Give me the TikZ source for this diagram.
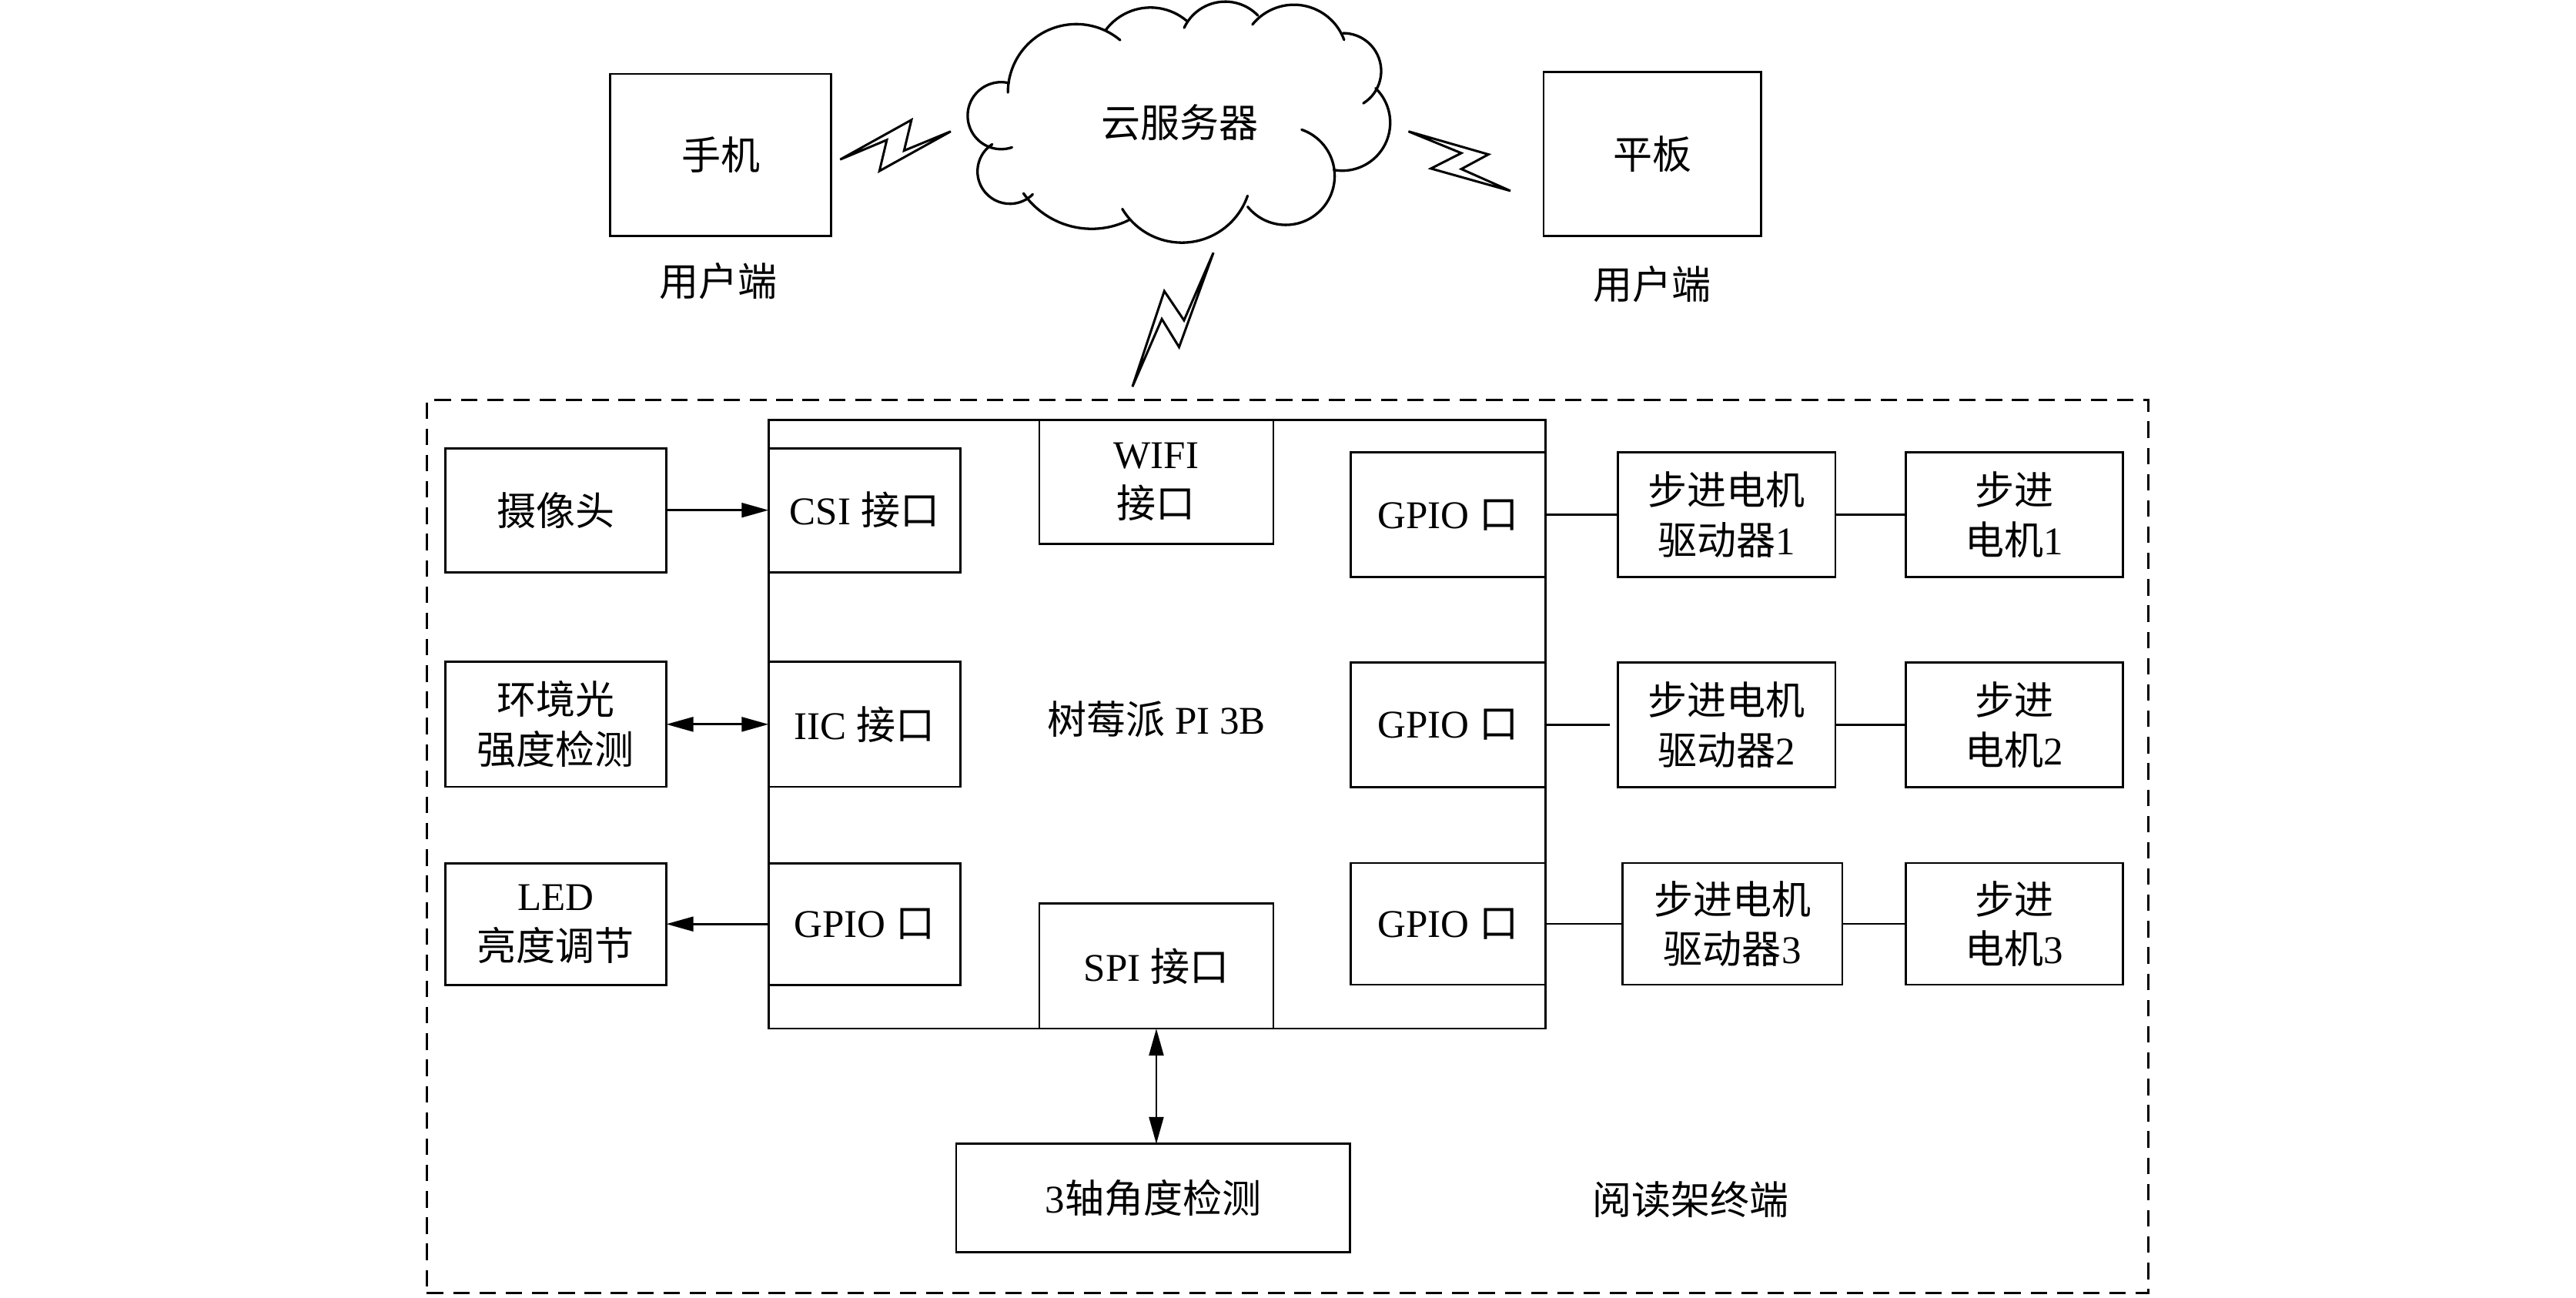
\documentclass[tikz,border=0pt]{standalone}
\usepackage{fontspec}
\setmainfont{Liberation Serif}
\newfontfamily\cjk{Noto Sans CJK SC}
\newcommand{\zh}[1]{{\cjk #1}}
\newcommand{\fsz}{\fontsize{17pt}{21.5pt}\selectfont}
\usetikzlibrary{arrows.meta,fit}
\tikzset{
  box/.style={draw, line width=0.95pt, inner sep=0pt, outer sep=0pt},
  lbl/.style={inner sep=0pt, align=center, font=\fsz},
  txt/.style={label={[lbl]center:#1}},
  frame/.style={draw, line width=1pt, dash pattern=on 0.25cm off 0.15cm, inner sep=0pt},
  conn/.style={line width=0.95pt},
  cloudline/.style={line width=1.1pt, line cap=round},
  bolt/.style={line width=1pt, line join=miter}
}
\begin{document}
\begin{tikzpicture}[x=0.025cm, y=0.025cm, >={Triangle[length=0.41cm, width=0.22cm]}]
\useasboundingbox (0,0) rectangle (1568,790);

% top: user devices
\node[box, fit={(371.5,646.3) (505.8,745)}, txt={\zh{手机}}] (phone) {};
\node[box, fit={(939.6,646.3) (1072,746.3)}, txt={\zh{平板}}] (tablet) {};
\node[lbl] (user1) at (437.4,619) {\zh{用户端}};
\node[lbl] (user2) at (1005.5,617) {\zh{用户端}};

% cloud
\draw[cloudline] (655.1,733.7) ++(50:41.6) arc[start angle=50, end angle=180, radius=41.6];
\draw[cloudline] (609.4,719.6) ++(77:20.4) arc[start angle=77, end angle=289, radius=20.4];
\draw[cloudline] (614.7,685.65) ++(123:19.7) arc[start angle=123, end angle=315, radius=19.7];
\draw[cloudline] (664.5,701.4) ++(215:50.7) arc[start angle=215, end angle=297, radius=50.7];
\draw[cloudline] (719.4,684.6) ++(211:42.3) arc[start angle=211, end angle=341, radius=42.3];
\draw[cloudline] (782.6,682.9) ++(219:29.8) arc[start angle=219, end angle=431, radius=29.8];
\draw[cloudline] (817.0,715.3) ++(-100:29.2) arc[start angle=-100, end angle=46, radius=29.2];
\draw[cloudline] (817.6,746.7) ++(-58:23.1) arc[start angle=-58, end angle=90, radius=23.1];
\draw[cloudline] (787.6,754.6) ++(20:32.5) arc[start angle=20, end angle=141, radius=32.5];
\draw[cloudline] (745.8,761.4) ++(44:27.6) arc[start angle=44, end angle=155, radius=27.6];
\draw[cloudline] (700.3,751.4) ++(50:34) arc[start angle=50, end angle=144, radius=34];
\node[lbl] (cloudtxt) at (718,715.4) {\zh{云服务器}};

% wireless bolts
\draw[bolt] (511.4,692.9) -- (554.8,717.0) -- (550.3,698.3) -- (578.7,710.0) -- (535.3,685.9) -- (539.8,704.8) -- cycle;
\draw[bolt] (857.3,710.0) -- (906.0,696.0) -- (889.5,687.1) -- (919.4,673.8) -- (871.0,687.4) -- (889.5,696.8) -- cycle;
\draw[bolt] (738.6,636.2) -- (720.7,595.0) -- (708.7,612.8) -- (689.3,554.6) -- (707.2,595.8) -- (717.7,578.7) -- cycle;

% terminal frame
\node[frame, fit={(259.8,3.1) (1307.8,546.4)}] (term) {};
\node[lbl] (termtxt) at (1028.9,59.8) {\zh{阅读架终端}};

% Raspberry Pi
\node[box, fit={(467.8,163.9) (940.7,534.3)}] (rpi) {};
\node[lbl] (rpitxt) at (704,352) {\zh{树莓派} PI 3B};
\node[box, fit={(467.8,441.7) (584.7,517.2)}, txt={CSI \zh{接口}}] (csi) {};
\node[box, fit={(467.8,311.1) (584.7,387.1)}, txt={IIC \zh{接口}}] (iic) {};
\node[box, fit={(467.8,190.5) (584.7,264.6)}, txt={GPIO \zh{口}}] (gpiol) {};
\node[box, fit={(632.6,459) (775.1,534.3)}, txt={WIFI\\\zh{接口}}] (wifi) {};
\node[box, fit={(632.6,163.9) (775.1,239.9)}, txt={SPI \zh{接口}}] (spi) {};
\node[box, fit={(822.2,438.7) (940.7,514.5)}, txt={GPIO \zh{口}}] (gpior1) {};
\node[box, fit={(822.2,310.8) (940.7,386.9)}, txt={GPIO \zh{口}}] (gpior2) {};
\node[box, fit={(822.2,190.6) (940.7,264.7)}, txt={GPIO \zh{口}}] (gpior3) {};

% left peripherals
\node[box, fit={(271,441.7) (405.6,517.2)}, txt={\zh{摄像头}}] (cam) {};
\node[box, fit={(271,311.1) (405.6,387.1)}, txt={\zh{环境光}\\\zh{强度检测}}] (amb) {};
\node[box, fit={(271,190.5) (405.6,264.6)}, txt={LED\\\zh{亮度调节}}] (led) {};

% drivers and motors
\node[box, fit={(984.7,438.7) (1117.2,514.5)}, txt={\zh{步进电机}\\\zh{驱动器}1}] (drv1) {};
\node[box, fit={(984.7,310.8) (1117.2,386.9)}, txt={\zh{步进电机}\\\zh{驱动器}2}] (drv2) {};
\node[box, fit={(987.6,190.6) (1121.4,264.7)}, txt={\zh{步进电机}\\\zh{驱动器}3}] (drv3) {};
\node[box, fit={(1159.9,438.7) (1292.4,514.5)}, txt={\zh{步进}\\\zh{电机}1}] (mot1) {};
\node[box, fit={(1159.9,310.8) (1292.4,386.9)}, txt={\zh{步进}\\\zh{电机}2}] (mot2) {};
\node[box, fit={(1159.9,190.6) (1292.4,264.7)}, txt={\zh{步进}\\\zh{电机}3}] (mot3) {};

% angle sensor
\node[box, fit={(582,27.6) (821.9,93.7)}, txt={3\zh{轴角度检测}}] (axis) {};

% connectors
\draw[conn, ->] (cam) -- (csi);
\draw[conn, <->] (amb) -- (iic);
\draw[conn, ->] (gpiol) -- (led);
\draw[conn, <->] (spi.south) -- (spi.south |- axis.north);
\draw[conn] (gpior1) -- (drv1);
\draw[conn, shorten >=0.12cm] (gpior2) -- (drv2);
\draw[conn] (gpior3) -- (drv3);
\draw[conn] (drv1) -- (mot1);
\draw[conn] (drv2) -- (mot2);
\draw[conn] (drv3) -- (mot3);
\end{tikzpicture}
\end{document}
